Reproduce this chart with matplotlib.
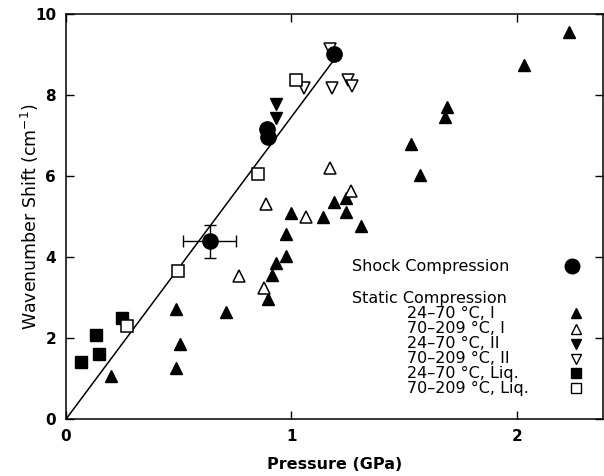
import matplotlib
matplotlib.use('Agg')
import matplotlib.pyplot as plt

plt.rcParams['font.family'] = ['DejaVu Sans']
plt.rcParams['mathtext.fontset'] = 'dejavusans'

# Shock compression (filled circles)
shock_p = [0.638, 0.89, 0.895, 1.19]
shock_w = [4.39, 7.15, 6.95, 9.02]
shock_perr = [0.118, 0, 0, 0]
shock_werr = [0.40, 0, 0, 0]

# Static compression, 24-70 C, phase I (filled up triangles)
s1_p = [2.23, 2.03, 1.69, 1.68, 1.53, 1.57, 1.24, 1.24, 1.31, 1.19, 1.00, 1.14,
        0.975, 0.975, 0.93, 0.916, 0.896, 0.487, 0.709, 0.508, 0.49, 0.20]
s1_w = [9.54, 8.73, 7.71, 7.46, 6.80, 6.02, 5.46, 5.11, 4.78, 5.37, 5.09, 4.98,
        4.58, 4.04, 3.86, 3.57, 2.97, 2.72, 2.64, 1.86, 1.26, 1.06]

# 70-209 C, phase I (open up triangles)
h1_p = [1.17, 0.886, 1.266, 1.063, 0.768, 0.88]
h1_w = [6.21, 5.32, 5.62, 5.00, 3.53, 3.24]

# 24-70 C, phase II (filled down triangles)
s2_p = [0.93, 0.93]
s2_w = [7.77, 7.44]

# 70-209 C, phase II (open down triangles)
h2_p = [1.17, 1.055, 1.18, 1.25, 1.27]
h2_w = [9.12, 8.18, 8.18, 8.38, 8.21]

# 24-70 C, liquid (filled squares)
sl_p = [0.247, 0.132, 0.148, 0.066]
sl_w = [2.50, 2.07, 1.62, 1.41]

# 70-209 C, liquid (open squares)
hl_p = [1.022, 0.85, 0.495, 0.269]
hl_w = [8.38, 6.04, 3.67, 2.29]

# line through origin to shock point
fit_p = [0, 1.2]
fit_w = [0, 8.95]

legend_labels = ['24–70 °C, I', '70–209 °C, I', '24–70 °C, II',
                 '70–209 °C, II', '24–70 °C, Liq.', '70–209 °C, Liq.']

fig = plt.figure(figsize=(6.04, 4.76), dpi=100)
ax = fig.add_axes([0.109, 0.119, 0.889, 0.852])

ax.plot(fit_p, fit_w, color='black', lw=1.1, zorder=2)

TRI = 9
SQ = 8.5
ax.plot(s1_p, s1_w, '^', ms=TRI, color='black', ls='none', zorder=3)
ax.plot(h1_p, h1_w, '^', ms=TRI, mfc='white', mec='black', mew=1.1, ls='none', zorder=3)
ax.plot(s2_p, s2_w, 'v', ms=TRI, color='black', ls='none', zorder=3)
ax.plot(h2_p, h2_w, 'v', ms=TRI, mfc='white', mec='black', mew=1.1, ls='none', zorder=3)
ax.plot(sl_p, sl_w, 's', ms=SQ, color='black', ls='none', zorder=3)
ax.plot(hl_p, hl_w, 's', ms=SQ, mfc='white', mec='black', mew=1.1, ls='none', zorder=3)
ax.errorbar(shock_p, shock_w, xerr=shock_perr, yerr=shock_werr, fmt='o', ms=11,
            color='black', ecolor='black', elinewidth=1, capsize=4, zorder=4)

# hand-made legend block
ax.text(1.267, 3.78, 'Shock Compression', fontsize=11.5, va='center', ha='left')
ax.plot([2.245], [3.79], 'o', ms=10.5, color='black', clip_on=False)
ax.text(1.267, 2.97, 'Static Compression', fontsize=11.5, va='center', ha='left')
leg_y = [2.62, 2.24, 1.86, 1.50, 1.14, 0.77]
leg_style = [dict(marker='^', mfc='black'), dict(marker='^', mfc='white'),
             dict(marker='v', mfc='black'), dict(marker='v', mfc='white'),
             dict(marker='s', mfc='black'), dict(marker='s', mfc='white')]
for lab, y, st in zip(legend_labels, leg_y, leg_style):
    ax.text(1.51, y, lab, fontsize=11.5, va='center', ha='left')
    ax.plot([2.26], [y], ls='none', ms=6.5, mec='black', mew=1, **st)

ax.set_xlim(0, 2.38)
ax.set_ylim(0, 10)
ax.set_xticks([0, 1, 2])
ax.set_yticks([0, 2, 4, 6, 8, 10])
ax.tick_params(direction='in', length=6, width=1, top=True, right=True,
               labelsize=11, pad=7)
for lab in ax.get_xticklabels() + ax.get_yticklabels():
    lab.set_fontweight('bold')
for s in ax.spines.values():
    s.set_linewidth(1.1)

ax.set_xlabel('Pressure (GPa)', fontsize=11.5, fontweight='bold', labelpad=9)
ax.set_ylabel('Wavenumber Shift (cm$^{-1}$)', fontsize=12.5, labelpad=-4)

fig.savefig('out.png', dpi=100)
